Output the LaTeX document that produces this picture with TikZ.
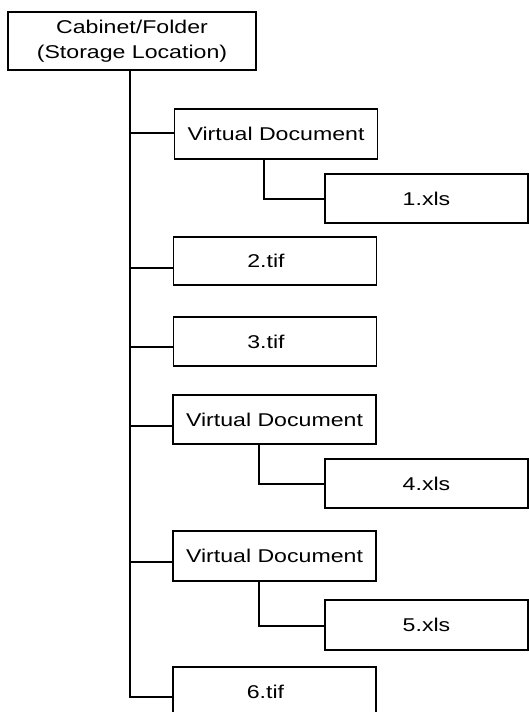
\documentclass[tikz,border=0pt]{standalone}
\usepackage{fontspec}
\setmainfont{Liberation Sans}
\newcommand{\stxt}[1]{\scalebox{1.25}[1]{#1}}
\begin{document}
\begin{tikzpicture}[x=1pt,y=-1pt,
  box/.style={draw, line width=1.5pt, rectangle, inner sep=0pt, minimum width=203pt, minimum height=49pt, font=\fontsize{18.5}{25}\selectfont, align=center},
  conn/.style={line width=1.5pt}]
\useasboundingbox (0,0) rectangle (529,712);
\clip (0,0) rectangle (529,712);
\fill[white] (0,0) rectangle (529,712);
\node[box, minimum width=248pt, minimum height=58pt] (root) at (132,41) {\stxt{Cabinet/Folder}\\\stxt{(Storage Location)}};
\node[box, minimum height=50pt] (vd1) at (276,134) {\stxt{Virtual Document}};
\node[box] (x1) at (426.5,198.5) {\stxt{1.xls}};
\node[box, minimum height=48pt] (t2) at (275,261) {\stxt{2.tif}\hspace*{18pt}};
\node[box] (t3) at (275,341.5) {\stxt{3.tif}\hspace*{18pt}};
\node[box] (vd2) at (274.5,419.5) {\stxt{Virtual Document}};
\node[box] (x4) at (426.5,483.5) {\stxt{4.xls}};
\node[box, minimum height=50pt] (vd3) at (274.5,556) {\stxt{Virtual Document}};
\node[box, minimum height=50pt] (x5) at (426.5,625) {\stxt{5.xls}};
\node[box, minimum height=50pt] (t6) at (274.5,692) {\stxt{6.tif}\hspace*{18pt}};
\coordinate (c1) at (130,133);
\coordinate (c2) at (130,268);
\coordinate (c3) at (130,347);
\coordinate (c4) at (130,426);
\coordinate (c5) at (130,562);
\coordinate (c6) at (130,697);
\coordinate (b1) at (264,199);
\coordinate (b4) at (259,484);
\coordinate (b5) at (259,626);
\draw[conn] (root.south -| c6) -- (c6) -- (t6.west |- c6);
\draw[conn] (c1) -- (vd1.west |- c1);
\draw[conn] (c2) -- (t2.west |- c2);
\draw[conn] (c3) -- (t3.west |- c3);
\draw[conn] (c4) -- (vd2.west |- c4);
\draw[conn] (c5) -- (vd3.west |- c5);
\draw[conn] (vd1.south -| b1) -- (b1) -- (x1.west |- b1);
\draw[conn] (vd2.south -| b4) -- (b4) -- (x4.west |- b4);
\draw[conn] (vd3.south -| b5) -- (b5) -- (x5.west |- b5);
\end{tikzpicture}
\end{document}
